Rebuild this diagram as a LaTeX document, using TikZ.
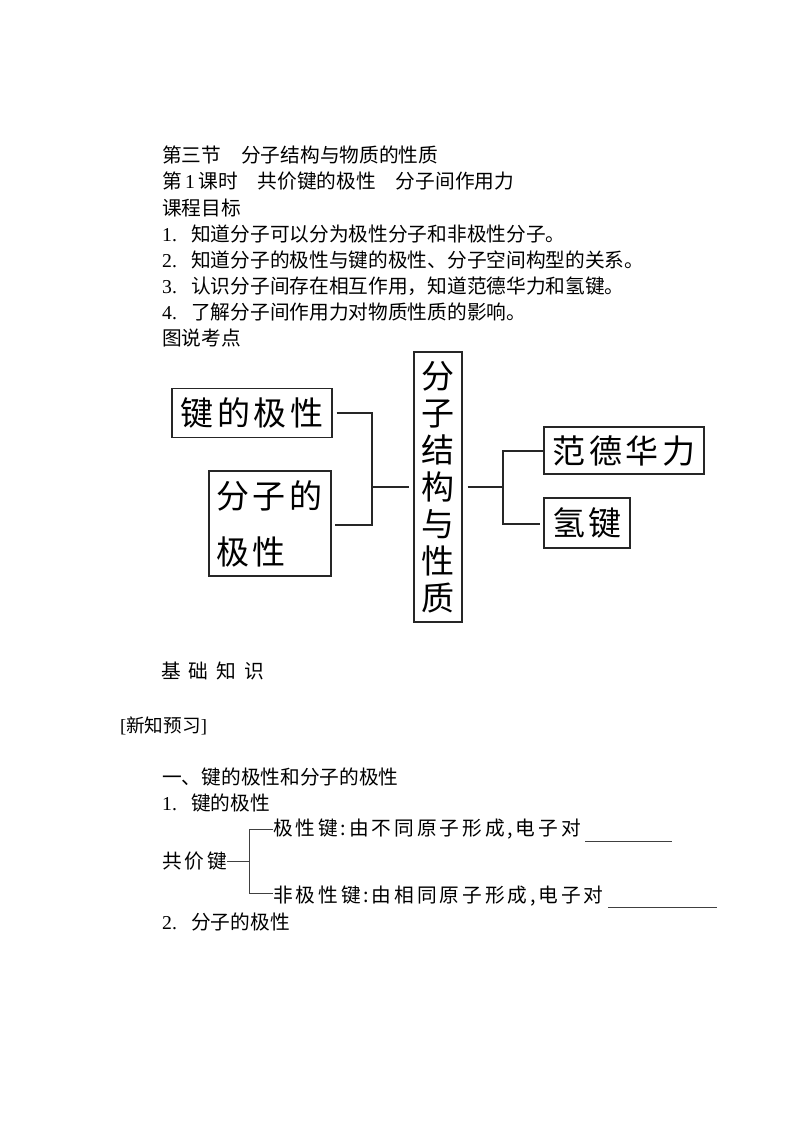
\documentclass[tikz,border=0pt]{standalone}
\usepackage{fontspec}
\setmainfont{Liberation Serif}
\newfontfamily\cjk{Noto Sans CJK SC}
\newfontfamily\cjkwide[LetterSpace=15]{Noto Sans CJK SC}
\newfontfamily\cjkbig[LetterSpace=11]{Noto Sans CJK SC}
\tikzset{
  txt/.style={anchor=base west,inner sep=0pt,font=\fontsize{19.7}{22}\selectfont\cjk},
  tight/.style={anchor=base west,inner sep=0pt,font=\fontsize{18.6}{22}\selectfont\cjk},
  wide/.style={anchor=base west,inner sep=0pt,font=\fontsize{19.7}{22}\selectfont\cjkwide},
  box/.style={draw=black!85,line width=1.05pt,inner sep=0pt,font=\fontsize{33}{36}\selectfont\cjkbig,align=center},
  conn/.style={draw=black!85,line width=1.05pt},
  thin/.style={draw=black!75,line width=.8pt}
}
\newcommand{\num}[1]{\makebox[29pt][l]{\rmfamily #1.}}
\newcommand{\hw}[1]{\makebox[11pt]{#1}}
\begin{document}
\begin{tikzpicture}[x=1pt,y=-1pt]
\useasboundingbox[fill=white] (0,0) rectangle (794,1123);
% header text
\node[txt] (t1) at (162,163) {第三节\hspace{20pt}分子结构与物质的性质};
\node[txt] (t2) at (162,189) {第{\rmfamily\,1\,}课时\hspace{20pt}共价键的极性\hspace{20pt}分子间作用力};
\node[txt] (t3) at (162,215) {课程目标};
\node[txt] (t4) at (162,241) {\num{1}知道分子可以分为极性分子和非极性分子。};
\node[txt] (t5) at (162,267) {\num{2}知道分子的极性与键的极性、分子空间构型的关系。};
\node[txt] (t6) at (162,293) {\num{3}认识分子间存在相互作用，知道范德华力和氢键。};
\node[txt] (t7) at (162,319) {\num{4}了解分子间作用力对物质性质的影响。};
\node[txt] (t8) at (162,345) {图说考点};
% diagram boxes
\node[box,minimum width=160pt,minimum height=49pt] (a) at (252,413) {键的极性};
\node[box,minimum width=122pt,minimum height=105pt,align=left,text width=108pt] (b) at (270,523.5) {分子的\\[20pt]极性};
\node[box,minimum width=48pt,minimum height=270pt,text width=34pt] (c) at (438,487) {分\\[1pt]子\\[1pt]结\\[1pt]构\\[1pt]与\\[1pt]性\\[1pt]质};
\node[box,minimum width=160pt,minimum height=47pt] (d) at (624,450.5) {范德华力};
\node[box,minimum width=86pt,minimum height=50pt] (e) at (587,523) {氢键};
% connectors
\coordinate (ja) at (372,413);
\coordinate (jb) at (372,525);
\coordinate (jm) at (372,487);
\coordinate (jr) at (503,487);
\coordinate (jd) at (503,451);
\coordinate (je) at (503,524);
\draw[conn,shorten <=4pt] (a.east |- ja) -- (ja) -- (jb) -- +(-37,0);
\draw[conn,shorten >=4pt] (jm) -- (c.west |- jm);
\draw[conn,shorten <=5pt] (c.east |- jr) -- (jr);
\draw[conn,shorten >=3pt] (jd -| d.west) ++(0,0) -- (jd) -- (je) -- (je -| e.west);
% lower text
\node[txt] (u1) at (161,678) {基\hspace{8pt}础\hspace{8pt}知\hspace{8pt}识};
\node[tight] (u2) at (120,732) {{\rmfamily[}新知预习{\rmfamily]}};
\node[txt] (u3) at (162,784) {一、键的极性和分子的极性};
\node[txt] (u4) at (162,810) {\num{1}键的极性};
\node[wide] (gj) at (162,868) {共价键};
\node[wide] (p1) at (273,835) {极性键\hw{:}由不同原子形成\hw{,}电子对};
\node[wide] (p2) at (273,902) {非极性键\hw{:}由相同原子形成\hw{,}电子对};
\node[txt] (u5) at (162,929) {\num{2}分子的极性};
% bracket
\coordinate (bt) at (249,829);
\coordinate (bm) at (249,861);
\coordinate (bb) at (249,893);
\draw[thin] (gj.east |- bm) -- (bm);
\draw[thin] (p1.west |- bt) -- (bt) -- (bb) -- (p2.west |- bb);
% blanks
\coordinate (l1a) at (585,841); \coordinate (l1b) at (672,841);
\coordinate (l2a) at (608,907); \coordinate (l2b) at (717,907);
\draw[thin] (l1a) -- (l1b);
\draw[thin] (l2a) -- (l2b);
\end{tikzpicture}
\end{document}
